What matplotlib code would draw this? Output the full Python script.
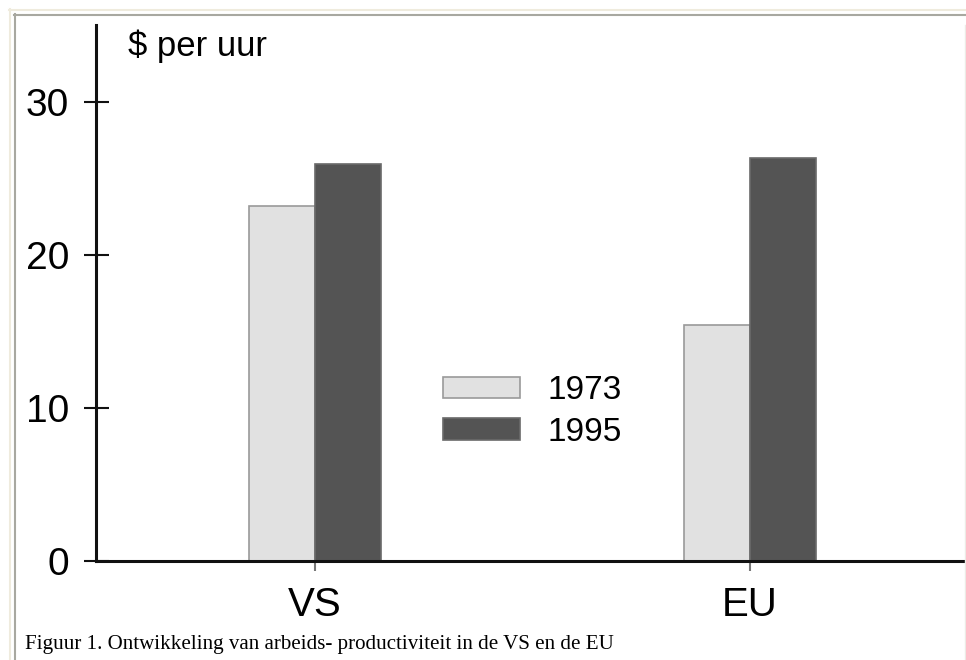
import numpy as np
import matplotlib
matplotlib.use("Agg")
import matplotlib.pyplot as plt
from matplotlib.lines import Line2D

# Labour productivity, dollars per hour
categories = ["VS", "EU"]
years = ["1973", "1995"]
v1973 = [23.2, 15.4]
v1995 = [25.9, 26.3]
yticks = [0, 10, 20, 30]

W, H = 966, 660
plt.rcParams['font.family'] = ['Liberation Sans', 'DejaVu Sans']

fig = plt.figure(figsize=(W / 100, H / 100), dpi=100)
fig.patch.set_facecolor("white")

# page frame around the figure
def px(x, y):
    return x / W, 1 - y / H

fig.add_artist(Line2D([px(9, 0)[0], 1], [px(0, 9.5)[1]] * 2, color="#efebdd", lw=1.5, transform=fig.transFigure))
fig.add_artist(Line2D([px(9.5, 0)[0]] * 2, [0, px(0, 9)[1]], color="#efebdd", lw=1.5, transform=fig.transFigure))
fig.add_artist(Line2D([px(14, 0)[0], 1], [px(0, 14.5)[1]] * 2, color="#a8a8a0", lw=1.5, transform=fig.transFigure))
fig.add_artist(Line2D([px(14.5, 0)[0]] * 2, [0, px(0, 14)[1]], color="#a8a8a0", lw=1.5, transform=fig.transFigure))
fig.add_artist(Line2D([px(965, 0)[0]] * 2, [0, px(0, 25)[1]], color="#ecebe6", lw=1, transform=fig.transFigure))

left, right, top, bottom = 96, 968, 25, 561
ax = fig.add_axes([left / W, 1 - bottom / H, (right - left) / W, (bottom - top) / H])

x = np.arange(len(categories))
w = 0.152
b1 = ax.bar(x - w / 2, v1973, w, color="#e1e1e1", edgecolor="#9a9a9a", linewidth=1.2, label=years[0], zorder=2)
b2 = ax.bar(x + w / 2, v1995, w, color="#545454", edgecolor="#6a6a6a", linewidth=1.2, label=years[1], zorder=2)

ax.set_xlim(-0.503, 1.502)
ax.set_ylim(0, 35)

for s in ["top", "right"]:
    ax.spines[s].set_visible(False)
for s in ["left", "bottom"]:
    ax.spines[s].set_linewidth(2.2)
    ax.spines[s].set_color("#111111")

ax.set_yticks(yticks)
ax.set_yticklabels([str(t) for t in yticks], fontsize=28)
ax.tick_params(axis="y", direction="inout", length=18, width=1.5, color="#111111", pad=10.5)
ax.set_xticks(x)
ax.set_xticklabels(categories, fontsize=29)
ax.tick_params(axis="x", direction="out", length=7, width=1.5, color="#777777", pad=11)

fig.text(128 / W, 1 - 56 / H, "$ per uur", fontsize=25, ha="left", va="baseline")

ax.legend(handles=[b1, b2], loc="upper left", bbox_to_anchor=(443 / W, 1 - 375 / H),
          bbox_transform=fig.transFigure, frameon=False, fontsize=24,
          handlelength=2.3, handleheight=0.6, handletextpad=0.85, labelspacing=0.32,
          borderpad=0, borderaxespad=0)

fig.text(25 / W, 1 - 649 / H, "Figuur 1. Ontwikkeling van arbeids- productiviteit in de VS en de EU",
         family=["Liberation Serif", "DejaVu Serif"], fontsize=15.1, ha="left", va="baseline")

fig.savefig("out.png", dpi=100)
